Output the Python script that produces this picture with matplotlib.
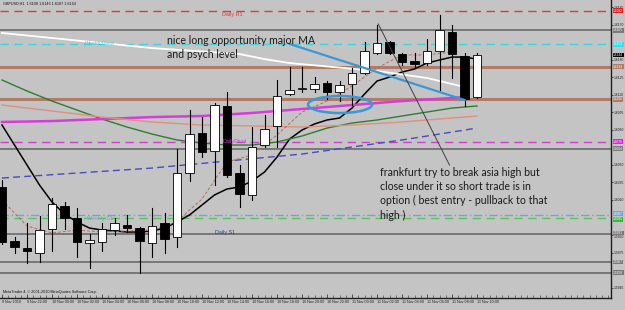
import numpy as np
import matplotlib
matplotlib.use("Agg")
import matplotlib.pyplot as plt
from matplotlib.patches import Rectangle, Ellipse
from matplotlib.transforms import blended_transform_factory

BG = "#c4c4c4"

# GBPUSD H1 candles, 9 Nov 20:00 -> 11 Nov 10:00
opens = [1.6031, 1.5985, 1.5979, 1.5975, 1.5995, 1.6015, 1.6005, 1.5983, 1.5984, 1.5994,
         1.5999, 1.5996, 1.5983, 1.6000, 1.5988, 1.6043, 1.6077, 1.6062, 1.6100, 1.6043,
         1.6024, 1.6067, 1.6083, 1.6111, 1.6115, 1.6115, 1.6120, 1.6112, 1.6119, 1.6129,
         1.6146, 1.6155, 1.6145, 1.6139, 1.6137, 1.6147, 1.6164, 1.6143, 1.6108]
highs = [1.6037, 1.5988, 1.6000, 1.6006, 1.6022, 1.6018, 1.6013, 1.5991, 1.6000, 1.6005,
         1.6007, 1.5997, 1.6013, 1.6009, 1.6064, 1.6097, 1.6091, 1.6103, 1.6112, 1.6050,
         1.6082, 1.6093, 1.6123, 1.6134, 1.6134, 1.6125, 1.6122, 1.6122, 1.6133, 1.6155,
         1.6170, 1.6156, 1.6146, 1.6146, 1.6158, 1.6178, 1.6170, 1.6146, 1.6146]
lows = [1.5982, 1.5975, 1.5966, 1.5967, 1.5976, 1.5995, 1.5971, 1.5962, 1.5976, 1.5990,
        1.5993, 1.5958, 1.5971, 1.5975, 1.5980, 1.6036, 1.6057, 1.6033, 1.6040, 1.6014,
        1.6020, 1.6065, 1.6065, 1.6110, 1.6112, 1.6112, 1.6106, 1.6105, 1.6101, 1.6128,
        1.6145, 1.6145, 1.6135, 1.6134, 1.6135, 1.6114, 1.6124, 1.6100, 1.6107]
closes = [1.5984, 1.5980, 1.5976, 1.5994, 1.6017, 1.6005, 1.5984, 1.5986, 1.5995, 1.6000,
          1.5996, 1.5985, 1.5998, 1.5987, 1.6043, 1.6076, 1.6061, 1.6101, 1.6041, 1.6025,
          1.6065, 1.6081, 1.6109, 1.6114, 1.6116, 1.6119, 1.6112, 1.6118, 1.6129, 1.6147,
          1.6154, 1.6146, 1.6138, 1.6136, 1.6147, 1.6165, 1.6145, 1.6106, 1.6144]

# moving averages (black = fast one, one value per bar)
ma_fast = [1.60841, 1.60670, 1.60499, 1.60328, 1.60183, 1.60080, 1.60012, 1.59960, 1.59943, 1.59935,
           1.59926, 1.59926, 1.59935, 1.59960, 1.60012, 1.60072, 1.60157, 1.60243, 1.60294, 1.60311,
           1.60362, 1.60439, 1.60567, 1.60721, 1.60798, 1.60850, 1.60884, 1.60901, 1.60986, 1.61106,
           1.61217, 1.61251, 1.61294, 1.61320, 1.61371, 1.61397, 1.61422, 1.61422, 1.61405]

green_idx = [0, 2, 4, 6, 8, 10, 12, 14, 16, 18, 20, 22, 24, 26, 28, 30, 32, 34, 36, 38]
green_ma = [1.61226, 1.61132, 1.61046, 1.60969, 1.60892, 1.60824, 1.60764, 1.60713, 1.60687, 1.60670,
            1.60670, 1.60696, 1.60747, 1.60815, 1.60858, 1.60884, 1.60918, 1.60952, 1.60986, 1.61004]

magenta_idx = [0, 4, 8, 12, 16, 20, 24, 28, 32, 36, 37]
magenta_ma = [1.60867, 1.60875, 1.60892, 1.60909, 1.60918, 1.60944, 1.60978, 1.61012, 1.61046, 1.61072, 1.61080]

salmon_idx = [0, 4, 8, 12, 16, 20, 24, 28, 32, 36, 38]
salmon_ma = [1.61012, 1.60961, 1.60909, 1.60867, 1.60841, 1.60833, 1.60824, 1.60841, 1.60867, 1.60901, 1.60918]

blue_idx = [0, 12, 24, 32, 38]
blue_ma = [1.60388, 1.60473, 1.60593, 1.60713, 1.60815]

white_idx = [0, 12, 19, 21, 23, 30, 34, 37]
white_ma = [1.61628, 1.61499, 1.61448, 1.61405, 1.61371, 1.61303, 1.61243, 1.61166]

brown_idx = [0, 2, 4, 6, 8, 10, 12, 14, 15, 16, 18, 20, 22, 24, 26, 28, 30, 32, 34, 36]
brown_ma = [1.60200, 1.59978, 1.59918, 1.59943, 1.59926, 1.59935, 1.59943, 1.60012, 1.60114, 1.60208,
            1.60525, 1.60585, 1.60756, 1.60952, 1.61046, 1.61175, 1.61328, 1.61440, 1.61440, 1.61465]

# horizontal levels (pivots + drawn lines)
level_prices = [1.6182, 1.6165, 1.6153, 1.6134, 1.6106, 1.6070, 1.6064, 1.6007, 1.6005, 1.5991, 1.5967, 1.5958]
level_colors = ["#d83c3c", "#6a6a6a", "#3fd3dc", "#b07c68", "#b07c68", "#d23cd2", "#6a6a6a",
                "#6fa6d2", "#5cc05c", "#6a6a6a", "#6a6a6a", "#6a6a6a"]
level_styles = [(0, (6, 4)), "-", (0, (6, 4)), "-", "-", (0, (6, 4)), "-",
                (0, (6, 2, 1, 2)), (0, (6, 4)), "-", "-", "-"]
level_widths = [1.0, 1.2, 1.0, 2.2, 2.2, 1.0, 1.2, 1.0, 1.0, 1.2, 1.2, 1.2]

pivot_names = ["Daily R1", "WeeklyPivot", "DailyPivot", "Weekly S1", "Daily S1"]
pivot_x = [17.6, 6.6, 17.6, 6.8, 17.0]
pivot_y = [1.61782, 1.61534, 1.60696, 1.60046, 1.59926]
pivot_colors = ["#d83c3c", "#3fd3dc", "#d23cd2", "#6fa6d2", "#2a3aa8"]

time_idx = list(range(0, 39, 2))
time_labels = ["9 Nov 2010", "9 Nov 22:00", "10 Nov 00:00", "10 Nov 02:00", "10 Nov 04:00",
               "10 Nov 06:00", "10 Nov 08:00", "10 Nov 10:00", "10 Nov 12:00", "10 Nov 14:00",
               "10 Nov 16:00", "10 Nov 18:00", "10 Nov 20:00", "10 Nov 22:00", "11 Nov 00:00",
               "11 Nov 02:00", "11 Nov 04:00", "11 Nov 06:00", "11 Nov 08:00", "11 Nov 10:00"]

price_ticks = [1.5945, 1.5975, 1.5990, 1.6020, 1.6035, 1.6050,
               1.6080, 1.6095, 1.6110, 1.6125, 1.6140, 1.6170, 1.6185]

# drawn objects: blue arrow, black pointer, ellipse
blue_line_x = [23.0, 37.0]
blue_line_y = [1.61534, 1.61055]
pointer_x = [30.1, 35.8]
pointer_y = [1.61705, 1.60499]
ellipse_xy = (27.04, 1.61016)

fig = plt.figure(figsize=(6.25, 3.10), dpi=100, facecolor=BG)
ax = fig.add_axes([0, 12 / 310, 611 / 625, 298 / 310])
ax.set_facecolor(BG)
ax.set_xlim(-0.16, 48.72)
ax.set_ylim(1.59362, 1.61910)

tiny = "Liberation Sans"

for p, c, ls, lw in zip(level_prices, level_colors, level_styles, level_widths):
    ax.axhline(p, color=c, ls=ls, lw=lw, zorder=1)

ax.plot(range(len(ma_fast)), ma_fast, color="black", lw=1.1, zorder=2)
ax.plot(green_idx, green_ma, color="#2e7d2e", lw=1.0, zorder=2)
ax.plot(magenta_idx, magenta_ma, color="#d83cd8", lw=1.8, zorder=2)
ax.plot(salmon_idx, salmon_ma, color="#e0907c", lw=1.0, zorder=2)
ax.plot(blue_idx, blue_ma, color="#4a4ac0", lw=1.0, ls=(0, (5, 3)), zorder=2)
ax.plot(white_idx, white_ma, color="white", lw=1.3, zorder=2)
ax.plot(brown_idx, brown_ma, color="#b86a5a", lw=0.7, ls=(0, (3, 2)), zorder=2)

# candles
w = 0.68
for i in range(len(opens)):
    o, h, l, c = opens[i], highs[i], lows[i], closes[i]
    ax.plot([i, i], [l, h], color="black", lw=0.8, zorder=3)
    bull = c >= o
    ax.add_patch(Rectangle((i - w / 2, min(o, c)), w, max(abs(c - o), 0.00003),
                           facecolor="white" if bull else "black",
                           edgecolor="black", lw=0.6, zorder=4))

for name, x, y, c in zip(pivot_names, pivot_x, pivot_y, pivot_colors):
    ax.text(x, y, name, color=c, fontsize=3.9, family=tiny, va="center", ha="left", zorder=5)

ax.plot(blue_line_x, blue_line_y, color="#3a98d4", lw=1.6, zorder=6)
ax.plot(pointer_x, pointer_y, color="#404040", lw=0.7, zorder=6)
ax.add_patch(Ellipse(ellipse_xy, 5.12, 0.00145, fill=False, ec="#3a98d4", lw=1.8, zorder=6))

ax.text(13.2, 1.61611, "nice long opportunity major MA\nand psych level", family="Lato",
        fontsize=7.6, color="#1a1a1a", va="top", ha="left", linespacing=1.35, zorder=7)
ax.text(30.24, 1.60482, "frankfurt try to break asia high but\nclose under it so short trade is in\n"
        "option ( best entry - pullback to that\nhigh )", family="Lato",
        fontsize=7.6, color="#1a1a1a", va="top", ha="left", linespacing=1.35, zorder=7)

# axes look like the terminal window
for s in ["left", "top"]:
    ax.spines[s].set_visible(False)
ax.spines["right"].set_color("#202020")
ax.spines["bottom"].set_color("#202020")
ax.spines["right"].set_linewidth(1.0)
ax.spines["bottom"].set_linewidth(1.0)

ax.yaxis.tick_right()
ax.set_yticks(price_ticks)
ax.set_yticklabels([f"{p:.4f}" for p in price_ticks])
ax.tick_params(axis="y", length=1.2, width=0.5, pad=0.6, labelsize=2.4, colors="#202020")
for lbl in ax.get_yticklabels():
    lbl.set_family(tiny)
    if lbl.get_text() == "1.5990":
        lbl.set_va("top")

ax.set_xticks(time_idx)
ax.set_xticklabels(time_labels)
ax.set_xticks(np.arange(0, 49, 0.5), minor=True)
ax.tick_params(axis="x", which="major", direction="in", length=3, width=0.5, pad=1.5,
               labelsize=2.7, colors="#202020")
ax.tick_params(axis="x", which="minor", direction="in", length=2.5, width=0.4, colors="#303030")
for lbl in ax.get_xticklabels():
    lbl.set_ha("left")
    lbl.set_family(tiny)

# price boxes on the right scale
box_colors = ["#e02020", "#7a7a7a", "#30e0ea", "#b07c68", "#b07c68", "#e020e0", "#7a7a7a",
              "#6fa6d2", "#30c030", "#7a7a7a", "#7a7a7a", "#7a7a7a"]
box_shift = [0, 0, 0, 0, 0, 0, 0, 1.0, -1.3, 0.6, 0, 0]
box_prices = level_prices + [closes[-1]]
box_colors = box_colors + ["black"]
box_shift = box_shift + [0]
tr = blended_transform_factory(ax.transAxes, ax.transData)
for p, c, dy in zip(box_prices, box_colors, box_shift):
    ax.annotate(f"{p:.4f}", xy=(1.0035, p), xycoords=tr, xytext=(0, dy), textcoords="offset points",
                fontsize=2.3, family=tiny, color="white", va="center", ha="left",
                bbox=dict(boxstyle="square,pad=0.12", fc=c, ec="none"),
                annotation_clip=False, zorder=8)

fig.text(3 / 625, 1 - 4 / 310, "GBPUSD,H1  1.6108 1.6146 1.6107 1.6144", fontsize=2.7,
         family=tiny, color="#101010", va="center", ha="left")
ax.text(0.005, 0.012, "MetaTrader 4, \u00a9 2001-2010 MetaQuotes Software Corp.", transform=ax.transAxes,
        fontsize=2.7, family=tiny, color="#101010", va="bottom", ha="left")

fig.savefig("out.png", dpi=100, facecolor=BG)
